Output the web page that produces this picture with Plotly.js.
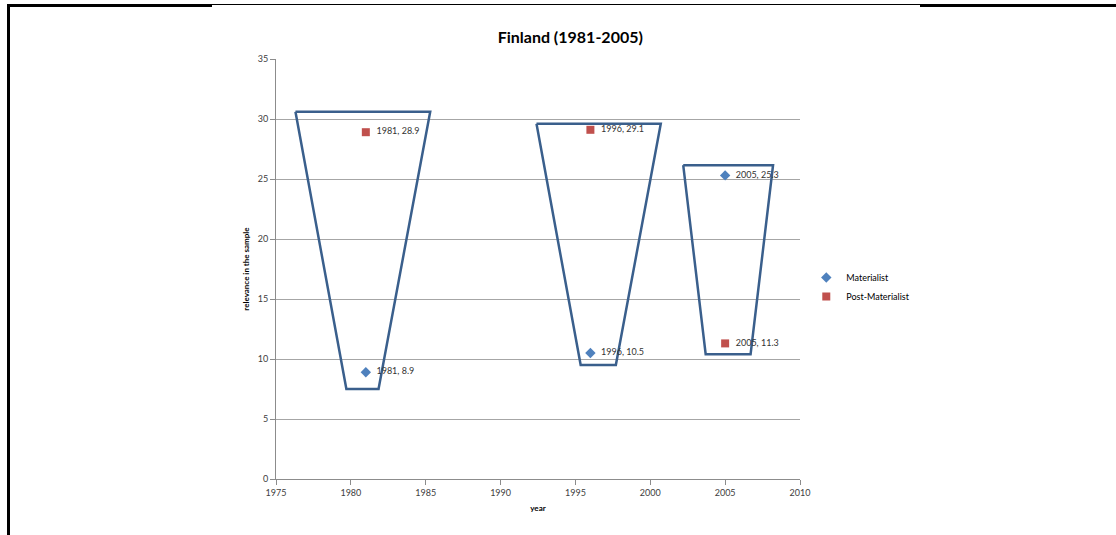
<!DOCTYPE html>
<html>
<head>
<meta charset="utf-8">
<script src="https://cdn.plot.ly/plotly-3.0.1.min.js"></script>
<style>
html,body{margin:0;padding:0;background:#fff;}
#wrap{position:relative;width:1116px;height:535px;overflow:hidden;}
#chart{position:absolute;left:0;top:0;width:1116px;height:535px;}
.ln{position:absolute;background:#000;}
</style>
</head>
<body>
<div id="wrap">
<div id="chart"></div>
<div class="ln" style="left:7px;top:4px;width:3px;height:531px;"></div>
<div class="ln" style="left:7px;top:4px;width:205px;height:3px;"></div>
<div class="ln" style="left:212px;top:4px;width:708px;height:1px;"></div>
<div class="ln" style="left:920px;top:4px;width:196px;height:3px;"></div>
</div>
<script>
// Data
var years = [1981, 1996, 2005];
var materialist = [8.9, 10.5, 25.3];
var postMaterialist = [28.9, 29.1, 11.3];
var seriesNames = ['Materialist', 'Post-Materialist'];

// Trapezoid outlines (drawn shapes in the original), vertices in data units
var trap1X = [1976.3, 1985.3, 1981.85, 1979.7, 1976.3];
var trap1Y = [30.6, 30.6, 7.5, 7.5, 30.6];
var trap2X = [1992.4, 2000.7, 1997.7, 1995.35, 1992.4];
var trap2Y = [29.6, 29.6, 9.5, 9.5, 29.6];
var trap3X = [2002.2, 2008.2, 2006.7, 2003.7, 2002.2];
var trap3Y = [26.15, 26.15, 10.4, 10.4, 26.15];

function labels(xs, ys){ return xs.map(function(x,i){ return '  ' + x + ', ' + ys[i]; }); }

var lineStyle = {color:'#3A5F8C', width:2.5};
var traces = [
  {x:trap1X, y:trap1Y, mode:'lines', line:lineStyle, showlegend:false, hoverinfo:'skip'},
  {x:trap2X, y:trap2Y, mode:'lines', line:lineStyle, showlegend:false, hoverinfo:'skip'},
  {x:trap3X, y:trap3Y, mode:'lines', line:lineStyle, showlegend:false, hoverinfo:'skip'},
  {x:years, y:materialist, name:seriesNames[0], mode:'markers+text',
   marker:{symbol:'diamond', size:8, color:'#4F81BD'},
   text:labels(years, materialist), textposition:'middle right',
   textfont:{family:'Lato, Carlito, sans-serif', size:9, color:'#333'}},
  {x:years, y:postMaterialist, name:seriesNames[1], mode:'markers+text',
   marker:{symbol:'square', size:8, color:'#C0504D'},
   text:labels(years, postMaterialist), textposition:'middle right',
   textfont:{family:'Lato, Carlito, sans-serif', size:9, color:'#333'}}
];

var layout = {
  width:1116, height:535,
  margin:{l:276, r:316, t:59, b:56},
  paper_bgcolor:'#fff', plot_bgcolor:'#fff',
  font:{family:'Lato, Carlito, sans-serif', size:9, color:'#404040'},
  title:{text:'<b>Finland (1981-2005)</b>', x:0.511, xanchor:'center', y:0.931, yanchor:'middle', yref:'container',
         font:{family:'Lato, Carlito, sans-serif', size:16, color:'#000'}},
  xaxis:{range:[1975, 2010], dtick:5, tick0:1975, showgrid:false, zeroline:false,
         showline:true, linecolor:'#8c8c8c', linewidth:1, ticks:'outside', ticklen:5, tickcolor:'#8c8c8c',
         tickfont:{size:9, color:'#404040'},
         title:{text:'<b>year</b>', font:{size:8, color:'#000'}, standoff:8}},
  yaxis:{range:[0, 35], dtick:5, showgrid:true, gridcolor:'#a6a6a6', gridwidth:1, zeroline:false,
         showline:true, linecolor:'#8c8c8c', linewidth:1, ticks:'outside', ticklen:5, tickcolor:'#8c8c8c',
         tickfont:{size:9, color:'#404040'},
         title:{text:'<b>relevance in the sample</b>', font:{size:8, color:'#000'}, standoff:6}},
  legend:{x:1.012, xanchor:'left', y:0.457, yanchor:'middle', font:{size:9, color:'#000'},
          itemwidth:30, tracegroupgap:2, bgcolor:'rgba(0,0,0,0)'},
  showlegend:true
};

Plotly.newPlot('chart', traces, layout, {displayModeBar:false, staticPlot:true});
</script>
</body>
</html>
